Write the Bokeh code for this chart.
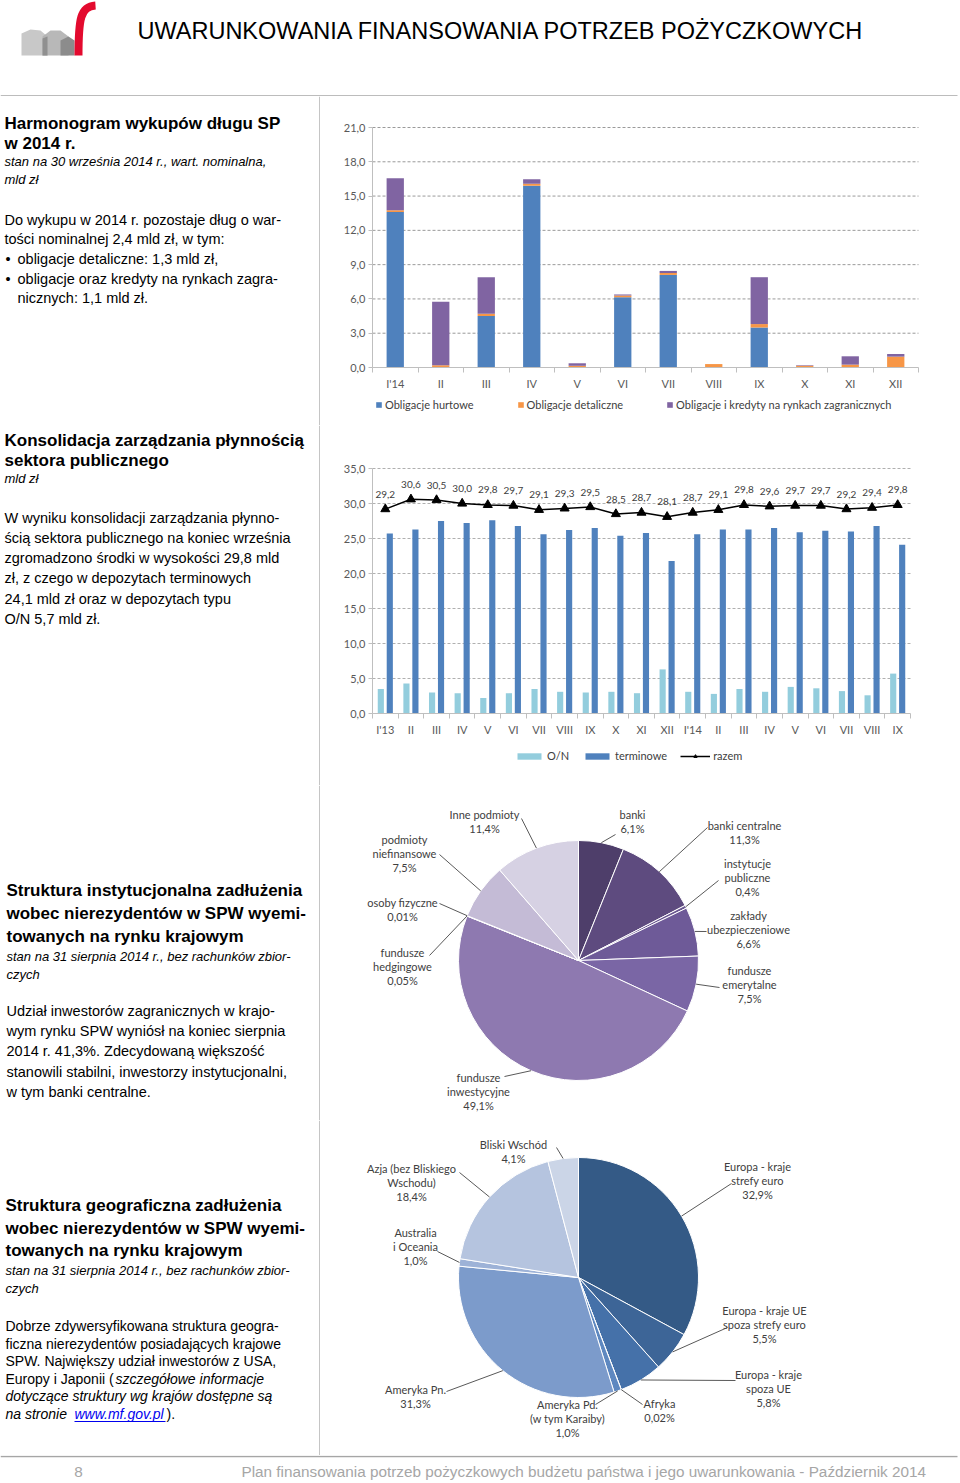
import numpy as np
from bokeh.plotting import figure
from bokeh.models import (ColumnDataSource, Range1d, FixedTicker, Legend, LegendItem, LabelSet,
                          LinearAxis)
from bokeh.layouts import column, row
from bokeh.embed import file_html
from bokeh.resources import INLINE
from bokeh.core.properties import value
from bokeh.transform import dodge

# ---------------- data ----------------
months14 = ["I'14", "II", "III", "IV", "V", "VI", "VII", "VIII", "IX", "X", "XI", "XII"]
hurtowe = [13.6, 0.0, 4.5, 15.9, 0.0, 6.15, 8.1, 0.0, 3.5, 0.0, 0.0, 0.0]
detaliczne = [0.15, 0.2, 0.2, 0.17, 0.15, 0.15, 0.17, 0.3, 0.3, 0.15, 0.25, 0.95]
zagraniczne = [2.8, 5.55, 3.2, 0.4, 0.22, 0.09, 0.18, 0.0, 4.1, 0.05, 0.73, 0.23]
ticks1 = [0, 3, 6, 9, 12, 15, 18, 21]

months_liq = ["I'13", "II", "III", "IV", "V", "VI", "VII", "VIII", "IX", "X", "XI", "XII",
              "I'14", "II", "III", "IV", "V", "VI", "VII", "VIII", "IX"]
on_dep = [3.5, 4.3, 3.0, 2.9, 2.2, 2.9, 3.5, 3.1, 3.0, 3.1, 2.9, 6.3,
          3.1, 2.8, 3.5, 3.1, 3.8, 3.6, 3.2, 2.6, 5.7]
term_dep = [25.7, 26.3, 27.5, 27.2, 27.6, 26.8, 25.6, 26.2, 26.5, 25.4, 25.8, 21.8,
            25.6, 26.3, 26.3, 26.5, 25.9, 26.1, 26.0, 26.8, 24.1]
razem = [29.2, 30.6, 30.5, 30.0, 29.8, 29.7, 29.1, 29.3, 29.5, 28.5, 28.7, 28.1,
         28.7, 29.1, 29.8, 29.6, 29.7, 29.7, 29.2, 29.4, 29.8]
ticks2 = [0, 5, 10, 15, 20, 25, 30, 35]

inst_lines = [["banki"], ["banki centralne"], ["instytucje", "publiczne"], ["zakłady", "ubezpieczeniowe"],
              ["fundusze", "emerytalne"], ["fundusze", "inwestycyjne"], ["fundusze", "hedgingowe"],
              ["osoby fizyczne"], ["podmioty", "niefinansowe"], ["Inne podmioty"]]
inst_share = [6.1, 11.3, 0.4, 6.6, 7.5, 49.1, 0.05, 0.01, 7.5, 11.4]

geo_lines = [["Europa - kraje", "strefy euro"], ["Europa - kraje UE", "spoza strefy euro"],
             ["Europa - kraje", "spoza UE"], ["Afryka"], ["Ameryka Pd.", "(w tym Karaiby)"],
             ["Ameryka Pn."], ["Australia", "i Oceania"], ["Azja (bez Bliskiego", "Wschodu)"], ["Bliski Wschód"]]
geo_share = [32.9, 5.5, 5.8, 0.02, 1.0, 31.3, 1.0, 18.4, 4.1]

# ---------------- styles / layout ----------------
inst_colors = ["#4E3E6A", "#5E4B7F", "#6A5790", "#6E5A98", "#7A66A5", "#8E79B0",
               "#A695C3", "#B6A9CF", "#C4BBD6", "#D6D1E3"]
geo_colors = ["#345A86", "#3D6597", "#4571A9", "#4F7BB5", "#5E88C0", "#7C9BCB",
              "#9DB2D7", "#B5C4DF", "#CBD5E7"]
inst_label_pos = [(632, 814), (744, 825), (747, 863), (748, 915), (749, 970),
                  (478, 1077), (402, 952), (402, 902), (404, 839), (484, 814)]
inst_leader_end = [(615, 834), (707, 827), (718, 880), (706, 931), (719, 987),
                   (504, 1076), (429, 955), (439, 903), (439, 854), (521, 818)]
geo_label_pos = [(757, 1166), (764, 1310), (768, 1374), (659, 1403), (567, 1404),
                 (415, 1389), (415, 1232), (411, 1168), (513, 1144)]
geo_leader_end = [(731, 1183), (727, 1327), (735, 1380), (642, 1404), (595, 1404),
                  (446, 1391), (437, 1251), (459, 1172), (556, 1147)]

SANS = "Liberation Sans"
CF = "Lato"
SEP = "#A6A6A6"
TXT = "#404040"
AX = "#BFBFBF"


def pl(v):
    return str(v).replace(".", ",")


def canvas(left, top, w, h):
    p = figure(width=w, height=h, x_range=Range1d(left, left + w), y_range=Range1d(-(top + h), -top),
               output_backend="svg", toolbar_location=None, x_axis_location=None, y_axis_location=None,
               min_border=0, outline_line_color=None)
    p.grid.visible = False
    return p


def put(p, x, y, s, size="14.5px", style="normal", color="black", align="left", font=SANS):
    p.text(x=[x], y=[-y], text=[s], text_font=value(font), text_font_size=size,
           text_font_style=style, text_color=color, text_align=align, text_baseline="middle")


def hline(p, x0, x1, y, color=SEP, w=1.3):
    p.line(x=[x0, x1], y=[-y, -y], line_color=color, line_width=w)


def vline(p, x, y0, y1, color=SEP, w=1.3):
    p.line(x=[x, x], y=[-y0, -y1], line_color=color, line_width=w)


def left_panel(top, h, items):
    p = canvas(0, top, 320, h)
    vline(p, 319.5, top, top + h)
    for it in items:
        put(p, *it[:3], **(it[3] if len(it) > 3 else {}))
    return p


def chart_fig(top, h, fl, fr, ft, fb, xr, yr):
    left, w = 320, 640
    x0, x1 = xr
    y0, y1 = yr
    kx = (x1 - x0) / (fr - fl)
    ky = (y1 - y0) / (fb - ft)
    p = figure(width=w, height=h,
               x_range=Range1d(x0 - (fl - left) * kx, x1 + (left + w - fr) * kx),
               y_range=Range1d(y0 - (top + h - fb) * ky, y1 + (ft - top) * ky),
               output_backend="svg", toolbar_location=None, x_axis_location=None, y_axis_location=None,
               min_border=0, outline_line_color=None)
    p.grid.visible = False
    return p


def add_axes(p, xr, yr, yticks, labels, gcolor):
    n = len(labels)
    g = [t for t in yticks if t > yr[0]]
    p.segment(x0=[xr[0]] * len(g), x1=[xr[1]] * len(g), y0=g, y1=g, line_color=gcolor,
              line_dash="3 2", line_width=1)
    xa = LinearAxis(fixed_location=yr[0], bounds=xr,
                    ticker=FixedTicker(ticks=list(range(n)), minor_ticks=[i - 0.5 for i in range(n + 1)]),
                    major_label_overrides={i: m for i, m in enumerate(labels)})
    xa.major_tick_line_color = None
    xa.major_tick_out = 5
    xa.major_tick_in = 0
    xa.minor_tick_line_color = AX
    xa.minor_tick_out = 5
    xa.minor_tick_in = 0
    xa.major_label_standoff = 4
    ya = LinearAxis(fixed_location=xr[0], bounds=yr, ticker=FixedTicker(ticks=yticks),
                    major_label_overrides={t: pl(float(t)) for t in yticks})
    ya.major_tick_line_color = AX
    ya.major_tick_out = 4
    ya.major_tick_in = 0
    ya.minor_tick_line_color = None
    ya.major_label_standoff = 3
    for ax in (xa, ya):
        ax.axis_line_color = AX
        ax.major_label_text_font = CF
        ax.major_label_text_font_size = "11px"
        ax.major_label_text_color = "#595959"
    p.add_layout(xa, "below")
    p.add_layout(ya, "left")


T = dict(size="17px", style="bold")
S = dict(size="13px", style="italic")
B = dict(size="14.5px")
B4 = dict(size="14px")
B4I = dict(size="14px", style="italic")

# ---------------- header ----------------
head = canvas(0, 0, 960, 96)
head.patch(x=[21, 21, 30, 40, 47, 47], y=[-55, -33, -29, -30, -36, -55], fill_color="#C8C8C8", line_color=None)
head.patch(x=[42, 42, 50, 60, 68, 68], y=[-55, -36, -30, -30, -36, -55], fill_color="#B0B0B0",
           line_color=None, fill_alpha=0.9)
head.patch(x=[42, 42, 47, 47], y=[-55, -38, -36, -55], fill_color="#909090", line_color=None)
head.patch(x=[60, 60, 68, 74, 74], y=[-55, -40, -36, -40, -55], fill_color="#8C8C8C", line_color=None)
head.bezier(x0=[78], y0=[-55], x1=[95], y1=[-5], cx0=[78], cy0=[-18], cx1=[80], cy1=[-6],
            line_color="#E30A2E", line_width=8)
put(head, 137, 30, "UWARUNKOWANIA FINANSOWANIA POTRZEB POŻYCZKOWYCH", size="23.5px")
hline(head, 0, 957, 95.5)

# ---------------- section 1 ----------------
l1 = left_panel(96, 329, [
    (4, 123, "Harmonogram wykupów długu SP", T),
    (4, 143, "w 2014 r.", T),
    (4, 161, "stan na 30 września 2014 r., wart. nominalna,", S),
    (4, 179, "mld zł", S),
    (4, 219, "Do  wykupu w 2014 r. pozostaje dług o war-", B),
    (4, 238, "tości nominalnej 2,4 mld zł, w tym:", B),
    (5, 258, "•", B), (17, 258, "obligacje detaliczne: 1,3 mld zł,", B),
    (5, 278, "•", B), (17, 278, "obligacje  oraz  kredyty  na  rynkach  zagra-", B),
    (17, 297, "nicznych: 1,1 mld zł.", B),
])

xr1 = (-0.5, len(months14) - 0.5)
yr1 = (0, 21)
p1 = chart_fig(96, 329, 372, 918, 127, 367, xr1, yr1)
add_axes(p1, xr1, yr1, ticks1, months14, "#9A9A9A")
src1 = ColumnDataSource(dict(x=list(range(len(months14))), hurt=hurtowe, det=detaliczne, zag=zagraniczne))
rs1 = p1.vbar_stack(["hurt", "det", "zag"], x="x", width=0.38, source=src1,
                    fill_color=["#4F81BD", "#F79646", "#8064A2"], line_color=None)
leg1 = Legend(items=[LegendItem(label="Obligacje hurtowe", renderers=[rs1[0]]),
                     LegendItem(label="Obligacje detaliczne", renderers=[rs1[1]]),
                     LegendItem(label="Obligacje i kredyty na rynkach zagranicznych", renderers=[rs1[2]])],
              orientation="horizontal", location=(55, 14), glyph_width=7, glyph_height=7,
              label_text_font=CF, label_text_font_size="11px", label_text_color=TXT, spacing=43,
              padding=0, margin=0, border_line_color=None, background_fill_alpha=0, label_standoff=3,
              label_height=12)
p1.add_layout(leg1)

# ---------------- section 2 ----------------
l2 = left_panel(425, 360, [
    (4, 440, "Konsolidacja zarządzania płynnością", T),
    (4, 460, "sektora publicznego", T),
    (4, 478, "mld zł", S),
    (4, 517, "W wyniku konsolidacji zarządzania płynno-", B),
    (4, 537, "ścią sektora publicznego na koniec września", B),
    (4, 557, "zgromadzono środki w wysokości 29,8 mld", B),
    (4, 577, "zł, z czego w depozytach terminowych", B),
    (4, 598, "24,1 mld zł  oraz w depozytach typu", B),
    (4, 618, "O/N 5,7 mld zł.", B),
])

xr2 = (-0.5, len(months_liq) - 0.5)
yr2 = (0, 35)
p2 = chart_fig(425, 360, 372, 910, 468, 713, xr2, yr2)
add_axes(p2, xr2, yr2, ticks2, months_liq, "#B0B0B0")
src2 = ColumnDataSource(dict(x=list(range(len(months_liq))), on=on_dep, term=term_dep, razem=razem,
                             lbl=[pl(v) for v in razem]))
r_on = p2.vbar(x=dodge("x", -0.175), top="on", width=0.24, source=src2, fill_color="#93CDDD", line_color=None)
r_term = p2.vbar(x=dodge("x", 0.175), top="term", width=0.24, source=src2, fill_color="#4F81BD", line_color=None)
r_line = p2.line(x="x", y="razem", source=src2, line_color="black", line_width=1.5)
r_pts = p2.scatter(x="x", y="razem", source=src2, marker="triangle", size=9, fill_color="black", line_color="black")
p2.add_layout(LabelSet(x="x", y="razem", text="lbl", source=src2, y_offset=15, text_align="center",
                       text_baseline="middle", text_font=value(CF), text_font_size="10px", text_color=TXT))
leg2 = Legend(items=[LegendItem(label="O/N", renderers=[r_on]),
                     LegendItem(label="terminowe", renderers=[r_term]),
                     LegendItem(label="razem", renderers=[r_line, r_pts])],
              orientation="horizontal", location=(194, 23), glyph_width=30, glyph_height=8,
              label_text_font=CF, label_text_font_size="11px", label_text_color=TXT, spacing=13,
              padding=0, margin=0, border_line_color=None, background_fill_alpha=0, label_standoff=3,
              label_height=12)
p2.add_layout(leg2)


# ---------------- pies ----------------
def pie(top, h, cx, cy, r, shares, colors, lines, lpos, lend):
    p = canvas(320, top, 640, h)
    sh = np.array(shares, dtype=float)
    frac = sh / sh.sum()
    ends = np.cumsum(frac) * 2 * np.pi
    starts = ends - frac * 2 * np.pi
    n = len(shares)
    src = ColumnDataSource(dict(x=[cx] * n, y=[-cy] * n, s=list(np.pi / 2 - starts), e=list(np.pi / 2 - ends),
                                c=colors))
    p.wedge(x="x", y="y", radius=r, start_angle="s", end_angle="e", direction="clock", source=src,
            fill_color="c", line_color="white", line_width=1)
    mids = (starts + ends) / 2
    xs, ys = [], []
    for m, (ex, ey) in zip(mids, lend):
        px, py = cx + r * np.sin(m), cy - r * np.cos(m)
        xs.append([px, ex])
        ys.append([-py, -ey])
    p.multi_line(xs=xs, ys=ys, line_color="#595959", line_width=1)
    for txt, v, (lx, ly) in zip(lines, shares, lpos):
        for i, t in enumerate(txt + [pl(v) + "%"]):
            put(p, lx, ly + 14.2 * i, t, size="11px", color=TXT, align="center", font=CF)
    return p


l3 = left_panel(785, 335, [
    (6, 890, "Struktura instytucjonalna zadłużenia", T),
    (6, 913, "wobec nierezydentów w SPW wyemi-", T),
    (6, 936, "towanych na rynku krajowym", T),
    (6, 956, "stan na 31 sierpnia 2014 r., bez rachunków zbior-", S),
    (6, 974, "czych", S),
    (6, 1010, "Udział inwestorów zagranicznych w krajo-", B),
    (6, 1030, "wym rynku SPW wyniósł na koniec sierpnia", B),
    (6, 1050, "2014 r. 41,3%. Zdecydowaną większość", B),
    (6, 1071, "stanowili stabilni,  inwestorzy instytucjonalni,", B),
    (6, 1091, "w tym banki centralne.", B),
])
p3 = pie(785, 335, 578, 960, 120, inst_share, inst_colors, inst_lines, inst_label_pos, inst_leader_end)

l4 = left_panel(1120, 335, [
    (5, 1205, "Struktura geograficzna zadłużenia", T),
    (5, 1228, "wobec nierezydentów w SPW wyemi-", T),
    (5, 1250, "towanych na rynku krajowym", T),
    (5, 1270, "stan na 31 sierpnia 2014 r., bez rachunków zbior-", S),
    (5, 1288, "czych", S),
    (5, 1325, "Dobrze zdywersyfikowana struktura geogra-", B4),
    (5, 1343, "ficzna nierezydentów posiadających krajowe", B4),
    (5, 1360, "SPW. Największy udział inwestorów z USA,", B4),
    (5, 1378, "Europy i Japonii (", B4),
    (115, 1378, "szczegółowe informacje", B4I),
    (5, 1395, "dotyczące struktury wg krajów dostępne są", B4I),
    (5, 1413, "na stronie", B4I),
    (74, 1413, "www.mf.gov.pl", dict(size="14px", style="italic", color="#0000EE")),
    (166, 1413, ").", B4),
])
hline(l4, 74, 165, 1421, color="#0000EE", w=1)
p4 = pie(1120, 335, 578, 1277, 120, geo_share, geo_colors, geo_lines, geo_label_pos, geo_leader_end)

# ---------------- footer ----------------
foot = canvas(0, 1455, 960, 28)
hline(foot, 0, 957, 1456)
put(foot, 78, 1471, "8", size="15.3px", color="#A6A6A6", align="center")
put(foot, 241, 1471, "Plan finansowania potrzeb pożyczkowych budżetu państwa i jego uwarunkowania - Październik 2014",
    size="15.3px", color="#A6A6A6")

page = column(head, row(l1, p1), row(l2, p2), row(l3, p3), row(l4, p4), foot)
open("out.html", "w").write(file_html(page, INLINE))
